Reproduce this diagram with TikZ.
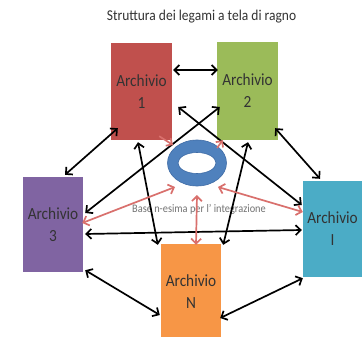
\documentclass[tikz,border=0pt]{standalone}
\usepackage{fontspec}
\setmainfont{Carlito}[FakeStretch=0.9]
\usetikzlibrary{arrows.meta,calc,shapes.geometric}
\definecolor{cRed}{HTML}{C0504D}
\definecolor{cGreen}{HTML}{9BBB59}
\definecolor{cPurple}{HTML}{8064A2}
\definecolor{cCyan}{HTML}{4BACC6}
\definecolor{cOrange}{HTML}{F79646}
\definecolor{cRing}{HTML}{4F81BD}
\definecolor{cRingDark}{HTML}{3F6CA6}
\definecolor{cArrowRed}{HTML}{D9706D}
\begin{document}
\begin{tikzpicture}[x=1pt,y=-1pt,
  box/.style={rectangle, minimum width=61pt, minimum height=97pt, inner sep=0pt,
    align=center, font=\fontsize{17}{22}\selectfont, text=black!80},
  blk/.style={draw=black, line width=1.7pt,
    {Straight Barb[length=5pt,width=10pt]}-{Straight Barb[length=5pt,width=10pt]}},
  redl/.style={draw=cArrowRed, line width=1.7pt,
    {Straight Barb[length=5pt,width=10pt]}-{Straight Barb[length=5pt,width=10pt]}},
  redone/.style={draw=cArrowRed, line width=1.7pt,
    -{Straight Barb[length=4.5pt,width=9pt]}}]
\useasboundingbox (0,0) rectangle (364,337);
\clip (0,0) rectangle (364,337);
\fill[white] (0,0) rectangle (364,337);

\node[font=\fontsize{15}{18}\selectfont, text=black!80] (title) at (201.5,17) {Struttura dei legami a tela di ragno};

\node[box, fill=cRed] (a1) at (141.5,91.5) {Archivio\\1};
\node[box, fill=cGreen] (a2) at (247.5,91) {Archivio\\2};
\node[box, fill=cPurple, minimum width=60pt, minimum height=95pt] (a3) at (53,224.5) {Archivio\\3};
\node[box, fill=cCyan, minimum width=59pt, minimum height=96pt] (aI) at (332.5,229) {Archivio\\I};
\node[box, fill=cOrange, minimum width=60pt, minimum height=96pt] (aN) at (191,292) {Archivio\\N};

% ring
\node[ellipse, minimum width=59pt, minimum height=46pt, inner sep=0pt] (hub) at (197,163) {};
\fill[cRing, draw=cRingDark, line width=0.6pt, even odd rule]
  (hub.center) ellipse [x radius=29.5, y radius=23]
  (hub.center) ellipse [x radius=19, y radius=10.5];

\node[font=\fontsize{11.5}{13}\selectfont, text=black!55] (base) at (199,209) {Base n-esima per l' integrazione};

% black connectors
\draw[blk] ($(a1.east)+(1,-21.5)$) -- ($(a2.west)+(1,-21)$);
\draw[blk] ($(a1.east)+(6,15.5)$) -- ($(aI.west)+(-1,-24)$);
\draw[blk] ($(a2.west)+(3,16)$) -- ($(a3.east)+(2,-11.5)$);
\draw[blk] ($(a1.south west)+(7,-12)$) -- ($(a3.north)+(12,-2)$);
\draw[blk] ($(a2.south east)+(-3,-11.5)$) -- ($(aI.north)+(-12.5,-2)$);
\draw[blk] ($(a1.south)+(-3.5,2)$) -- ($(aN.north west)+(-3,1)$);
\draw[blk] ($(a2.south)+(0.5,2.5)$) -- ($(aN.north east)+(2,1)$);
\draw[blk] ($(a3.east)+(2,9.5)$) -- ($(aI.west)+(-1,1)$);
\draw[blk] ($(a3.south east)+(2,-2)$) -- ($(aN.west)+(-1,23)$);
\draw[blk] ($(aI.south west)+(0,1)$) -- ($(aN.east)+(-1,26)$);

% red connectors
\draw[redone] ($(a1.south east)+(-13,-4)$) -- ($(hub.center)+(-24,-18)$);
\draw[redone] ($(hub.center)+(20,-15)$) -- ($(a2.south west)+(6,0.5)$);
\draw[redl] ($(a3.east)+(-1,-1.5)$) -- ($(hub.center)+(-22,24)$);
\draw[redl] ($(hub.center)+(21,24)$) -- ($(aI.west)+(0,-17)$);
\draw[redl] ($(hub.center)+(0,32)$) -- ($(aN.north)+(5,1)$);
\end{tikzpicture}
\end{document}
